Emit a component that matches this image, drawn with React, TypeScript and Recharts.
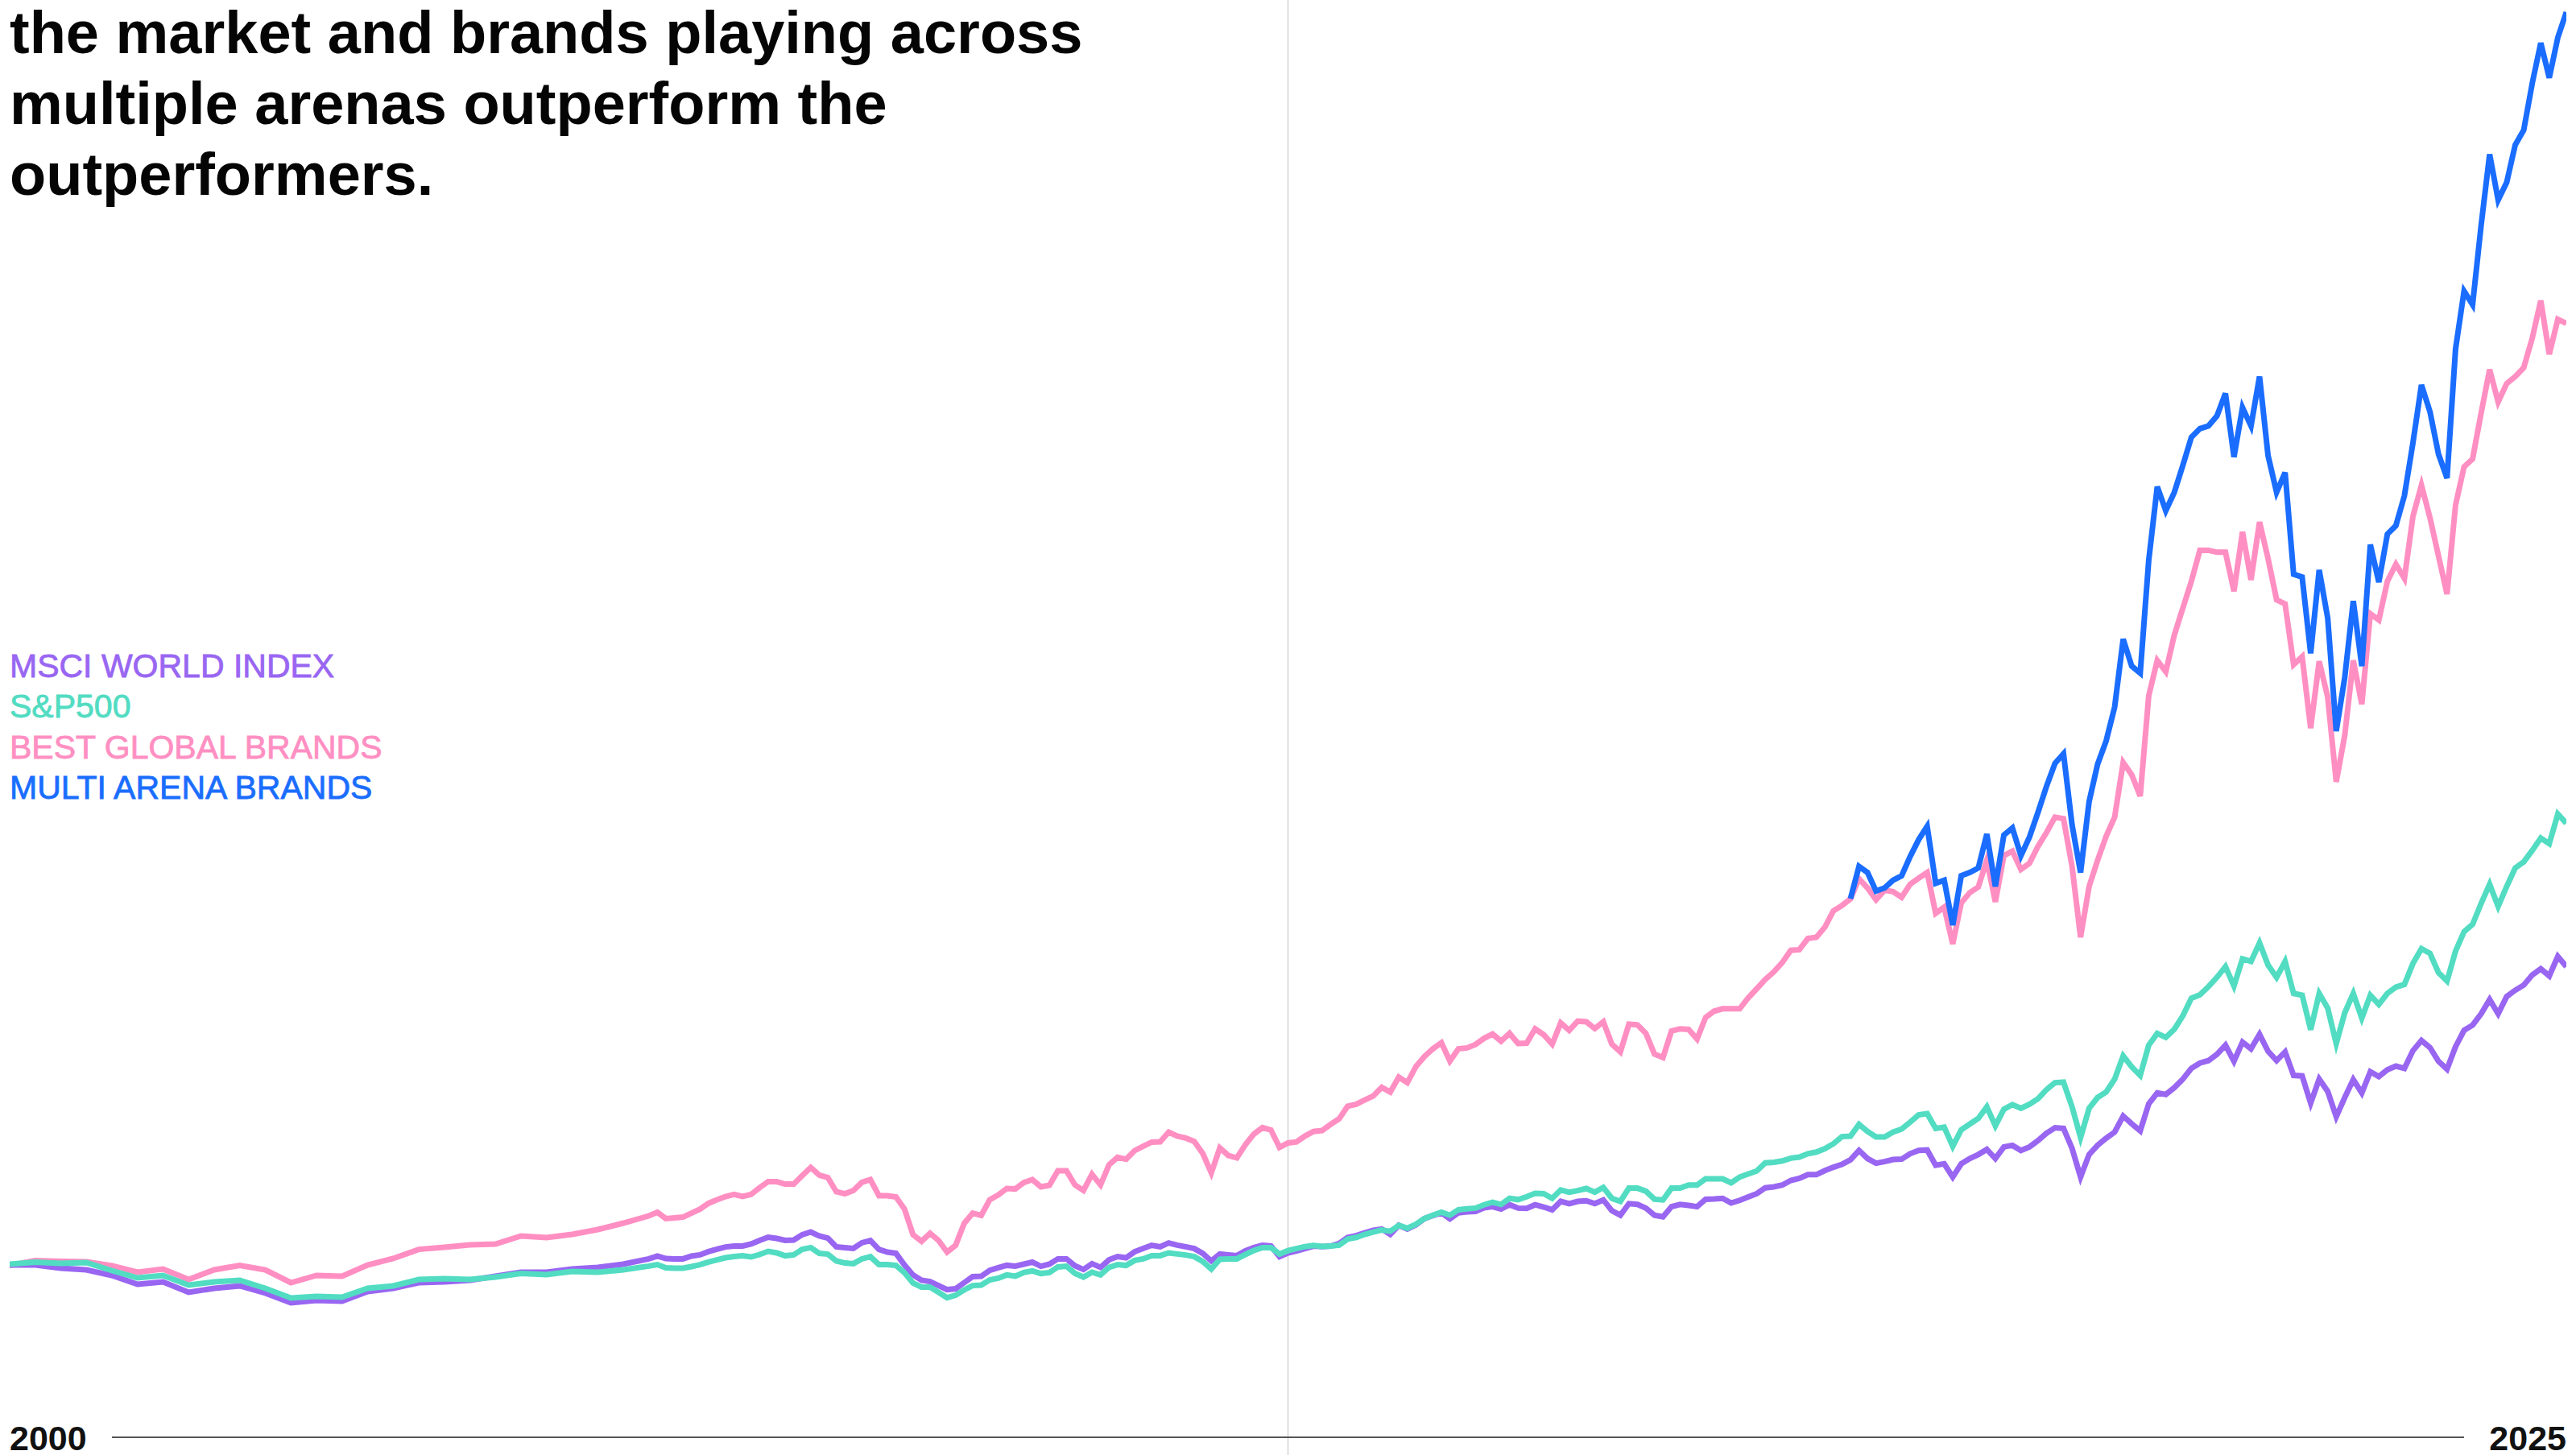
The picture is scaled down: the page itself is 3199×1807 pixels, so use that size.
import React from "react";
import { LineChart, Line, XAxis, YAxis, ReferenceLine } from "recharts";

// ---- categories: quarterly 2000-01..2006-01, then monthly 2006-04..2025-01 ----
const quarterlyDates = [
  "2000-01", "2000-04", "2000-07", "2000-10",
  "2001-01", "2001-04", "2001-07", "2001-10",
  "2002-01", "2002-04", "2002-07", "2002-10",
  "2003-01", "2003-04", "2003-07", "2003-10",
  "2004-01", "2004-04", "2004-07", "2004-10",
  "2005-01", "2005-04", "2005-07", "2005-10",
  "2006-01",
];
const monthlyDates = [
  "2006-04", "2006-05", "2006-06", "2006-07", "2006-08", "2006-09", "2006-10", "2006-11", "2006-12",
  "2007-01", "2007-02", "2007-03", "2007-04", "2007-05", "2007-06", "2007-07", "2007-08", "2007-09", "2007-10", "2007-11", "2007-12",
  "2008-01", "2008-02", "2008-03", "2008-04", "2008-05", "2008-06", "2008-07", "2008-08", "2008-09", "2008-10", "2008-11", "2008-12",
  "2009-01", "2009-02", "2009-03", "2009-04", "2009-05", "2009-06", "2009-07", "2009-08", "2009-09", "2009-10", "2009-11", "2009-12",
  "2010-01", "2010-02", "2010-03", "2010-04", "2010-05", "2010-06", "2010-07", "2010-08", "2010-09", "2010-10", "2010-11", "2010-12",
  "2011-01", "2011-02", "2011-03", "2011-04", "2011-05", "2011-06", "2011-07", "2011-08", "2011-09", "2011-10", "2011-11", "2011-12",
  "2012-01", "2012-02", "2012-03", "2012-04", "2012-05", "2012-06", "2012-07", "2012-08", "2012-09", "2012-10", "2012-11", "2012-12",
  "2013-01", "2013-02", "2013-03", "2013-04", "2013-05", "2013-06", "2013-07", "2013-08", "2013-09", "2013-10", "2013-11", "2013-12",
  "2014-01", "2014-02", "2014-03", "2014-04", "2014-05", "2014-06", "2014-07", "2014-08", "2014-09", "2014-10", "2014-11", "2014-12",
  "2015-01", "2015-02", "2015-03", "2015-04", "2015-05", "2015-06", "2015-07", "2015-08", "2015-09", "2015-10", "2015-11", "2015-12",
  "2016-01", "2016-02", "2016-03", "2016-04", "2016-05", "2016-06", "2016-07", "2016-08", "2016-09", "2016-10", "2016-11", "2016-12",
  "2017-01", "2017-02", "2017-03", "2017-04", "2017-05", "2017-06", "2017-07", "2017-08", "2017-09", "2017-10", "2017-11", "2017-12",
  "2018-01", "2018-02", "2018-03", "2018-04", "2018-05", "2018-06", "2018-07", "2018-08", "2018-09", "2018-10", "2018-11", "2018-12",
  "2019-01", "2019-02", "2019-03", "2019-04", "2019-05", "2019-06", "2019-07", "2019-08", "2019-09", "2019-10", "2019-11", "2019-12",
  "2020-01", "2020-02", "2020-03", "2020-04", "2020-05", "2020-06", "2020-07", "2020-08", "2020-09", "2020-10", "2020-11", "2020-12",
  "2021-01", "2021-02", "2021-03", "2021-04", "2021-05", "2021-06", "2021-07", "2021-08", "2021-09", "2021-10", "2021-11", "2021-12",
  "2022-01", "2022-02", "2022-03", "2022-04", "2022-05", "2022-06", "2022-07", "2022-08", "2022-09", "2022-10", "2022-11", "2022-12",
  "2023-01", "2023-02", "2023-03", "2023-04", "2023-05", "2023-06", "2023-07", "2023-08", "2023-09", "2023-10", "2023-11", "2023-12",
  "2024-01", "2024-02", "2024-03", "2024-04", "2024-05", "2024-06", "2024-07", "2024-08", "2024-09", "2024-10", "2024-11", "2024-12",
  "2025-01",
];

// ---- series values (index), aligned with the dates above ----
const msciWorld = [
  // quarterly 2000-01 .. 2006-01
  107, 107, 105, 104,
  100.5, 95, 96.5, 90,
  92.5, 94, 89.5, 83.5,
  85, 84.5, 90.5, 92.5,
  96, 96.5, 97.5, 100,
  102.5, 102.5, 104.5, 105.5,
  107.5,
  // monthly 2006-04 ..
  110.8, 112.5, 111, 110.8, 110.8, 112.5, 113.3, 115.3, 116.8,
  118.2, 118.8, 118.8, 120, 122.2, 124.2, 123.5, 122.3, 122.5, 125.8, 127.5, 125,
  123.7, 118.3, 117.8, 117.3, 120.8, 122.2, 116.7, 115, 114.2, 107, 100.8, 97.5,
  96.7, 94.2, 91.7, 92.2, 96, 99.8, 100, 103.7, 105.3, 106.8, 106.3, 107.5,
  108.8, 106.2, 107.5, 110.8, 110.8, 106.5, 104.2, 107.8, 105.5, 110.2, 112.2, 111.5,
  115.2, 117.2, 119.2, 118.3, 120.7, 119.3, 118.3, 117.2, 114.2, 109.5, 113.8, 113.3,
  112.8, 115.8, 117.8, 119.2, 118.8, 112.2, 114.5, 115.7, 117.2, 118.7, 118.4, 118.7,
  120.3, 124.1, 125.2, 127, 128.5, 129.3, 126, 131.6, 129.3, 131.9, 135.8, 137.7,
  139.4, 135.6, 139.4, 140, 140.2, 142.5, 143.2, 141.7, 144.4, 142.3, 142.1, 144.4,
  143, 141.3, 146.5, 145.1, 146.5, 146.9, 145.1, 147.4, 140.7, 137.9, 145.1, 144.6,
  142.3, 137.9, 136.9, 143.2, 144.6, 144, 143.2, 147.8, 148, 148.4, 145.5, 147.1,
  149.2, 151.3, 154.9, 155.5, 156.6, 159.5, 160.8, 163.1, 163.1, 165.6, 167.7, 169.5,
  172.3, 178.1, 173.1, 170.2, 171.2, 172.5, 172.7, 176.1, 178.1, 178.4, 168.9, 169.8,
  161.6, 169.8, 173.1, 175.6, 178.8, 173.1, 180.3, 181.3, 178.1, 180.3, 184.2, 188.8,
  192.2, 191.8, 179.4, 161.6, 175.6, 181.3, 185.7, 189.5, 199.5, 194.7, 190.3, 207.1,
  213.8, 212.9, 217.1, 222.4, 229.1, 232.4, 233.9, 237.8, 243.5, 233.5, 245.4, 241.2,
  250.2, 239.7, 233.9, 239.3, 224.7, 224.4, 207.5, 222.4, 214.8, 199.1, 211, 222.1,
  213.8, 227, 224, 228.2, 230.5, 229.1, 240.1, 246.4, 242, 233.5, 228.6, 242.5,
  252.7, 255.9, 263, 271.8, 263, 273.7, 277.6, 280.8, 287.1, 290.9, 286.5, 298.6,
  292.3,
];

const sp500 = [
  107.5, 108.7, 108, 108.5,
  103.5, 99, 100.5, 94.5,
  96.5, 97.5, 92.5, 86.5,
  87.5, 87, 92.5, 94,
  98, 98.5, 98, 99.5,
  101.7, 101, 103, 102.5,
  104,
  106.3, 107.2, 105.2, 105, 105, 106, 107.2, 108.8, 110.2,
  111.5, 112.2, 112.7, 112, 113.5, 115.5, 114.5, 112.7, 113.3, 116.7, 117.8, 114.2,
  113.7, 109.5, 108.2, 107.8, 110.8, 112.2, 107.2, 107.2, 106.7, 102.2, 95.8, 93.3,
  93.2, 90, 86.7, 88.2, 91.5, 94.2, 94.5, 97.7, 98.8, 100.8, 100, 102.3,
  103.3, 101.7, 102.3, 105.8, 106.2, 101.8, 99.5, 102.5, 100.8, 105.5, 107.2, 106.7,
  109.8, 110.8, 112.8, 112.8, 114.5, 113.8, 113.2, 112.2, 109.2, 104.5, 110.5, 110.8,
  110.8, 113.5, 116, 117.8, 117.8, 113.8, 115.9, 117.2, 118.4, 119.1, 118.5, 118.7,
  119.3, 123.1, 124.1, 126, 127.4, 128.7, 127.9, 131.6, 129.8, 132.3, 135.8, 137.9,
  139.8, 137.9, 141.3, 141.9, 142.3, 144.4, 145.9, 144.6, 148.4, 147.6, 149.4, 151.5,
  151.3, 148.4, 153.6, 152.2, 153.2, 154.5, 152.2, 155.1, 148.4, 146.5, 154.7, 154.7,
  152.8, 147.8, 147.4, 154.7, 154.7, 156.6, 156.6, 160.5, 160.5, 160.5, 158, 161.6,
  163.5, 165.4, 170.4, 170.8, 171.6, 173.3, 174, 176.1, 177.1, 179.2, 182.3, 186.7,
  187, 194.3, 189.9, 186.5, 186.5, 189.5, 191.4, 195.7, 200.2, 201, 191.8, 192.6,
  180.7, 190.9, 194.5, 198, 205.2, 193.4, 203.7, 206.6, 204.3, 206.8, 210.2, 215.9,
  220.2, 220.5, 205.2, 186.1, 204.3, 211, 214.4, 222.4, 236.8, 230, 224.7, 243.5,
  250.8, 248.3, 253.4, 261.7, 272.6, 274.7, 279.8, 285.6, 292.3, 280.2, 297.1, 295.5,
  307, 293.2, 285.6, 295.5, 275.6, 274.5, 253.1, 275.6, 266.5, 244.5, 263.6, 275.6,
  260.3, 274.5, 268.8, 275.6, 279.5, 281.2, 294.2, 303.4, 300.5, 288.5, 283.3, 301.9,
  313.9, 318.5, 331.5, 343.4, 329.6, 342, 353.5, 357.3, 364.4, 372.1, 368.6, 387,
  381.3,
];

const bestGlobalBrands = [
  106.7, 109.7, 109.2, 109,
  106.5, 102.5, 104.5, 98,
  104, 106.7, 104, 96,
  100.5, 100, 107, 111,
  116.7, 118, 119.5, 120,
  125, 124, 126, 129,
  133,
  137.5, 139.7, 135.8, 136.2, 136.7, 139.2, 141.7, 145.3, 147.5,
  149.5, 150.8, 149.5, 150.8, 155, 158.8, 158.7, 157.2, 157.2, 162.5, 167.5, 162.8,
  161.3, 152.5, 151.2, 153.2, 158.3, 160, 150, 150, 149.2, 141.7, 125.8, 121.7,
  126.7, 122.2, 115, 119.2, 132.8, 139.2, 137.8, 147.5, 150.5, 154.5, 154.2, 158.2,
  160, 155.5, 156.5, 165.5, 165.5, 156.7, 153.3, 163.3, 156.7, 169.2, 173.8, 172.7,
  178, 180.7, 183.3, 183.5, 189.5, 187, 185.8, 183.7, 176.2, 164.2, 179.7, 175,
  173.5, 181.7, 188.3, 192.3, 190.8, 180, 182.8, 183.4, 187.1, 189.9, 190.5, 194.3,
  197.8, 205.6, 206.8, 209.4, 211.9, 217.3, 214.4, 223.6, 220.2, 230.1, 236.4, 241.2,
  245, 233.6, 241.2, 241.8, 243.9, 247.7, 250.4, 246, 250.8, 244.5, 244.7, 253.6,
  250, 244.1, 257.3, 252.7, 258.4, 258, 253.8, 258, 244.1, 239.3, 256.5, 256.1,
  250.8, 238, 235.8, 252.3, 253.6, 253.3, 247.3, 260.7, 264.6, 266.1, 266.1, 266.1,
  272.8, 278.5, 284.3, 289, 294.8, 302.4, 302.8, 309.7, 310.5, 316.8, 326.9, 330.2,
  334.4, 346.8, 341.1, 333.8, 339.7, 338.8, 335.3, 343.4, 347.2, 350.7, 325.4, 329.2,
  306.3, 331.9, 338.2, 341.7, 358.3, 332.5, 361.2, 364, 352.6, 356.4, 366.9, 375.5,
  385.1, 384.1, 354.5, 310.5, 342, 358.3, 373.2, 385.1, 419, 411.4, 398.2, 460.5,
  482.4, 475.4, 498.2, 514.9, 531.5, 550.8, 550.8, 549.6, 549.6, 525.4, 562.2, 532.4,
  568.4, 545.6, 520.1, 517.5, 479.8, 484.7, 440.3, 481.9, 459.6, 407, 435.9, 482.4,
  455.2, 511.4, 507.5, 531.5, 542.1, 533.3, 571.9, 591.2, 571, 547.3, 523.6, 578.9,
  602.6, 607.5, 635.9, 663.1, 642.9, 654.3, 658.7, 664.2, 682.5, 705.8, 672.5, 694.2,
  691.7,
];

// starts 2018-01 (aligned with the last dates)
const multiArenaBrands = [
  334.4, 354.5, 350.7, 339.2, 341.1, 345.9, 348.7, 360.6, 371.1, 379.4, 344, 345.9,
  318.1, 348.7, 350.7, 353.5, 374.6, 342, 374, 378.4, 361.2, 372.7, 388, 404.2,
  418.5, 424.4, 380.3, 350.7, 394.7, 418, 432.4, 453.5, 495.6, 478.9, 474.5, 544.7,
  590.3, 575.4, 586.8, 603.5, 621, 626.3, 628, 634.2, 648.2, 608.7, 639.4, 628,
  658.7, 609.6, 586.8, 599.1, 535.9, 534.2, 486.8, 538.6, 508.7, 438.5, 471.9, 519.3,
  478.9, 554.3, 531, 560.8, 566.1, 584.7, 617.5, 653.5, 636.8, 610.5, 595.6, 675.8,
  711.7, 703.3, 752.5, 796.7, 768.3, 779.2, 802.5, 811.7, 840.8, 865.8, 844.2, 869.2,
  885,
];

const axisTicks = [2000, 2025];
const titleLines = [
  "the market and brands playing across",
  "multiple arenas outperform the",
  "outperformers.",
];

const COLORS = {
  msci: "#9966F2",
  sp: "#52DCC2",
  bgb: "#FF8FC2",
  mab: "#1A6DFF",
};

const legendItems = [
  { label: "MSCI WORLD INDEX", color: COLORS.msci },
  { label: "S&P500", color: COLORS.sp },
  { label: "BEST GLOBAL BRANDS", color: COLORS.bgb },
  { label: "MULTI ARENA BRANDS", color: COLORS.mab },
];

const allDates = [...quarterlyDates, ...monthlyDates];
const toYear = (d: string) => {
  const [y, m] = d.split("-").map(Number);
  return y + (m - 1) / 12;
};
const mabOffset = allDates.length - multiArenaBrands.length;
const data = allDates.map((d, i) => ({
  t: toYear(d),
  msci: msciWorld[i],
  sp: sp500[i],
  bgb: bestGlobalBrands[i],
  mab: i >= mabOffset ? multiArenaBrands[i - mabOffset] : null,
}));

const W = 3199;
const H = 1807;
const FONT = "'Liberation Sans', Arial, Helvetica, sans-serif";
const STROKE = 7;

const YearTick = (props: any) => {
  const { x, y, payload } = props;
  const first = payload.value === axisTicks[0];
  return (
    <text
      x={x}
      y={y + 16}
      textAnchor={first ? "start" : "end"}
      fontFamily={FONT}
      fontWeight={700}
      fontSize={43}
      fill="#111111"
    >
      {payload.value}
    </text>
  );
};

export default function App() {
  return (
    <div
      style={{
        position: "absolute",
        left: 0,
        top: 0,
        width: W,
        height: H,
        background: "#ffffff",
        overflow: "hidden",
      }}
    >
      <LineChart
        width={W}
        height={H}
        data={data}
        margin={{ top: 0, right: 12, bottom: 0, left: 12 }}
      >
        <XAxis
          type="number"
          dataKey="t"
          domain={[2000, 2025]}
          ticks={axisTicks}
          interval={0}
          axisLine={false}
          tickLine={false}
          tickSize={0}
          tickMargin={0}
          height={22}
          tick={<YearTick />}
          allowDataOverflow
        />
        <YAxis hide type="number" domain={[0, 892.5]} allowDataOverflow />
        <ReferenceLine
          segment={[
            { x: 2012.5, y: -11.5 },
            { x: 2012.5, y: 892.5 },
          ]}
          stroke="#dddddd"
          strokeWidth={2}
          ifOverflow="visible"
        />
        <ReferenceLine
          segment={[
            { x: 2001, y: 0 },
            { x: 2024, y: 0 },
          ]}
          stroke="#555555"
          strokeWidth={2}
          ifOverflow="visible"
        />
        <Line
          type="linear"
          dataKey="bgb"
          stroke={COLORS.bgb}
          strokeWidth={STROKE}
          dot={false}
          activeDot={false}
          isAnimationActive={false}
        />
        <Line
          type="linear"
          dataKey="mab"
          stroke={COLORS.mab}
          strokeWidth={STROKE}
          dot={false}
          activeDot={false}
          connectNulls={false}
          isAnimationActive={false}
        />
        <Line
          type="linear"
          dataKey="msci"
          stroke={COLORS.msci}
          strokeWidth={STROKE}
          dot={false}
          activeDot={false}
          isAnimationActive={false}
        />
        <Line
          type="linear"
          dataKey="sp"
          stroke={COLORS.sp}
          strokeWidth={STROKE}
          dot={false}
          activeDot={false}
          isAnimationActive={false}
        />
      </LineChart>

      <div
        style={{
          position: "absolute",
          left: 12,
          top: -3,
          fontFamily: FONT,
          fontWeight: 700,
          fontSize: 74,
          lineHeight: "88px",
          color: "#050505",
          whiteSpace: "nowrap",
        }}
      >
        {titleLines.map((l) => (
          <div key={l}>{l}</div>
        ))}
      </div>

      <div
        style={{
          position: "absolute",
          left: 12,
          top: 802,
          fontFamily: FONT,
          fontSize: 41,
          lineHeight: "50.3px",
          whiteSpace: "nowrap",
        }}
      >
        {legendItems.map((it) => (
          <div
            key={it.label}
            style={{ color: it.color, WebkitTextStroke: `0.8px ${it.color}` }}
          >
            {it.label}
          </div>
        ))}
      </div>
    </div>
  );
}
